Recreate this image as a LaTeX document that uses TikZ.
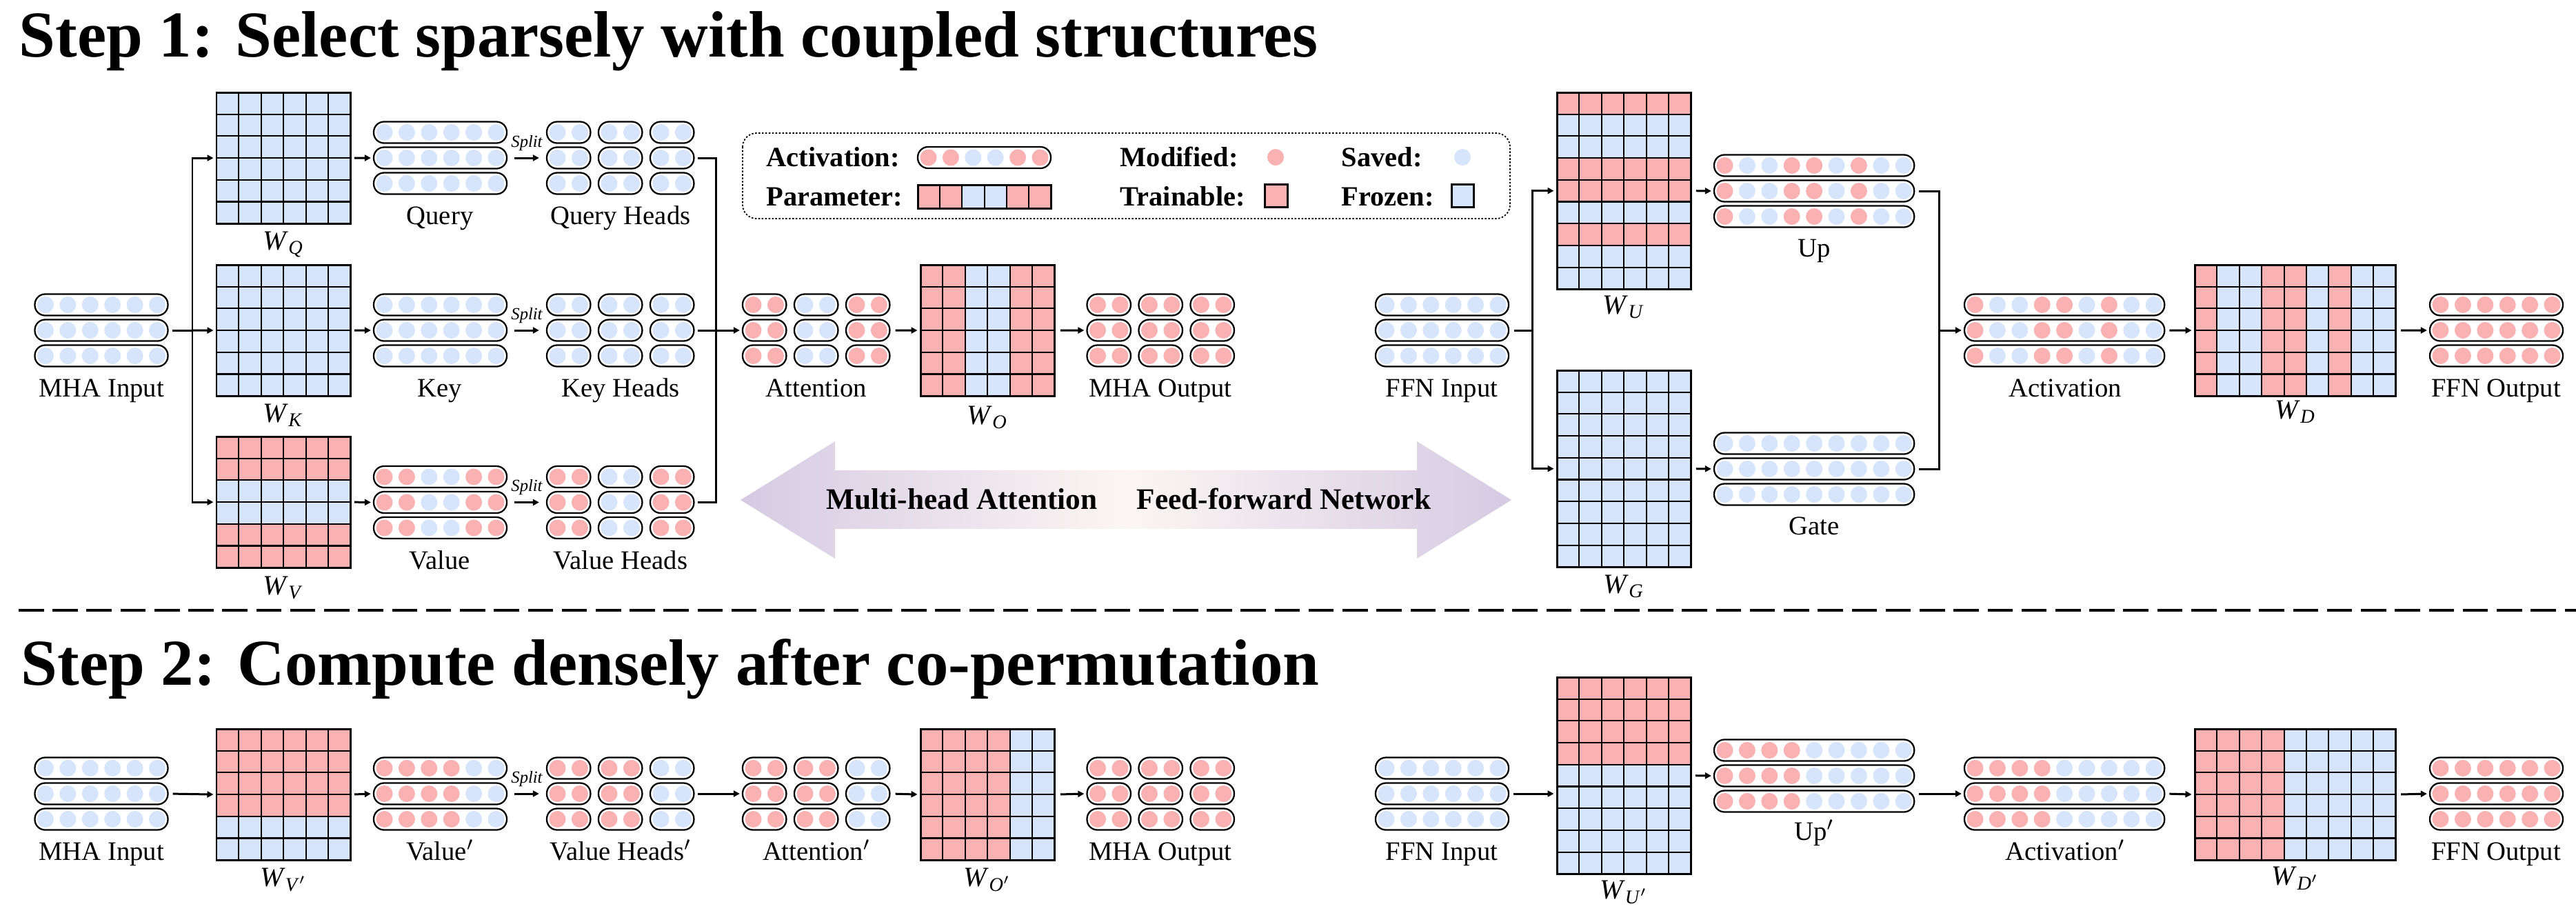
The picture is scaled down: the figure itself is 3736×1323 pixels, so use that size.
\documentclass[tikz,border=0pt]{standalone}
\usepackage{fontspec}
\setmainfont{Liberation Serif}
\usetikzlibrary{arrows.meta}
\definecolor{cp}{RGB}{250,177,177}
\definecolor{cb}{RGB}{214,228,252}
\definecolor{lav}{RGB}{214,202,227}
\definecolor{cream}{RGB}{251,246,243}

% pill: name, left x, centre y, colour list
\newcommand\mypill[4]{%
  \foreach \c [count=\i from 0] in {#4} {\global\let\mypn\i}%
  \pgfmathsetmacro\mypw{\mypn*32.4+31}%
  \node[pillst, minimum width=\mypw*0.01cm] (#1) at ({#2+\mypw/2},{#3}) {};
  \foreach \c [count=\i from 0] in {#4}
    \fill[c\c] ({#2+15.5+\i*32.4},{#3}) circle [radius=0.12cm];
}
% three stacked pills
\newcommand\myact[4]{%
  \pgfmathsetmacro\myya{#3-37}\pgfmathsetmacro\myyc{#3+37}%
  \mypill{#1-1}{#2}{\myya}{#4}%
  \mypill{#1-2}{#2}{#3}{#4}%
  \mypill{#1-3}{#2}{\myyc}{#4}%
}
% heads: three columns of short pills
\newcommand\myheads[6]{%
  \pgfmathsetmacro\myxa{#2}\pgfmathsetmacro\myxb{#2+75}\pgfmathsetmacro\myxc{#2+150}%
  \myact{#1-a}{\myxa}{#3}{#4,#4}%
  \myact{#1-b}{\myxb}{#3}{#5,#5}%
  \myact{#1-c}{\myxc}{#3}{#6,#6}%
}
% matrix coloured by rows: name, L, T, ncols, row colours
\newcommand\wrows[5]{%
  \foreach \c [count=\i] in {#5} {\global\let\mynr\i}%
  \pgfmathsetmacro\mymw{#4*32.4}%
  \pgfmathsetmacro\mymh{\mynr*31.7}%
  \pgfmathtruncatemacro\mynrm{\mynr-1}%
  \pgfmathtruncatemacro\myncm{#4-1}%
  \foreach \c [count=\i from 0] in {#5} \fill[c\c] ({#2},{#3+\i*31.7}) rectangle ++(\mymw,31.7);
  \foreach \i in {1,...,\mynrm} \draw[gridln] ({#2},{#3+\i*31.7}) -- ++(\mymw,0);
  \foreach \i in {1,...,\myncm} \draw[gridln] ({#2+\i*32.4},{#3}) -- ++(0,\mymh);
  \node[matst, minimum width=\mymw*0.01cm, minimum height=\mymh*0.01cm] (#1) at ({#2+\mymw/2},{#3+\mymh/2}) {};
}
% matrix coloured by columns: name, L, T, nrows, column colours
\newcommand\wcols[5]{%
  \foreach \c [count=\i] in {#5} {\global\let\mync\i}%
  \pgfmathsetmacro\mymw{\mync*32.4}%
  \pgfmathsetmacro\mymh{#4*31.7}%
  \pgfmathtruncatemacro\mynrm{#4-1}%
  \pgfmathtruncatemacro\myncm{\mync-1}%
  \foreach \c [count=\i from 0] in {#5} \fill[c\c] ({#2+\i*32.4},{#3}) rectangle ++(32.4,\mymh);
  \foreach \i in {1,...,\mynrm} \draw[gridln] ({#2},{#3+\i*31.7}) -- ++(\mymw,0);
  \foreach \i in {1,...,\myncm} \draw[gridln] ({#2+\i*32.4},{#3}) -- ++(0,\mymh);
  \node[matst, minimum width=\mymw*0.01cm, minimum height=\mymh*0.01cm] (#1) at ({#2+\mymw/2},{#3+\mymh/2}) {};
}

\begin{document}
\begin{tikzpicture}[x=0.01cm,y=-0.01cm,
  pillst/.style={draw, line width=0.65pt, rounded corners=0.15cm, fill=white, inner sep=0pt, minimum height=0.31cm},
  matst/.style={draw, line width=0.85pt, inner sep=0pt},
  gridln/.style={line width=0.6pt},
  arr/.style={line width=0.85pt, -{Triangle[length=0.09cm,width=0.09cm]}, shorten >=0.03cm},
  conn/.style={line width=0.85pt},
  lbl/.style={font=\fontsize{11}{12}\selectfont, anchor=base, inner sep=0pt},
  wl/.style={font=\fontsize{11.5}{12}\selectfont, anchor=base, inner sep=0pt},
  lg/.style={font=\fontsize{11.5}{12}\selectfont\bfseries, anchor=base west, inner sep=0pt},
  ttl/.style={font=\fontsize{27}{30}\selectfont\bfseries, anchor=base west, inner sep=0pt},
  spl/.style={font=\fontsize{7}{8}\selectfont\itshape, inner sep=0pt},
  big/.style={font=\fontsize{12.3}{14}\selectfont\bfseries, anchor=base, inner sep=0pt}
]
\useasboundingbox (0,0) rectangle (3736,1323);

% ---------- titles and separator ----------
\node[ttl] (t1) at (27,82) {Step 1: Select sparsely with coupled structures};
\node[ttl] (t2) at (30,993) {Step 2: Compute densely after co-permutation};
\coordinate (d1) at (27,885);
\coordinate (d2) at (3736,885);
\draw[line width=1.15pt, dash pattern=on 10.4pt off 3.6pt] (d1) -- (d2);

% ---------- legend ----------
\draw[line width=0.5pt, dash pattern=on 0.7pt off 0.7pt, rounded corners=0.2cm] (1077,193) rectangle (2190,317);
\node[lg] (lgact) at (1111,241) {Activation:};
\node[lg] (lgpar) at (1111,298) {Parameter:};
\node[lg] (lgmod) at (1624,241) {Modified:};
\node[lg] (lgtra) at (1624,298) {Trainable:};
\node[lg] (lgsav) at (1945,241) {Saved:};
\node[lg] (lgfro) at (1945,298) {Frozen:};
\mypill{lgpill}{1331}{228.5}{p,p,b,b,p,p}
\foreach \c [count=\i from 0] in {p,p,b,b,p,p}
  \filldraw[fill=c\c, gridln] ({1331+\i*32.2},268) rectangle ++(32.2,34);
\draw[line width=0.85pt] (1331,268) rectangle (1524.2,302);
\fill[cp] (1850,228) circle [radius=0.12cm];
\fill[cb] (2121,228) circle [radius=0.12cm];
\filldraw[fill=cp, line width=0.85pt] (1834,267) rectangle (1867,300);
\filldraw[fill=cb, line width=0.85pt] (2105,267) rectangle (2137,300);

% ---------- double arrow ----------
\shade[left color=lav, right color=lav, middle color=cream]
  (1074,725) -- (1211,640) -- (1211,682) -- (2055,682) -- (2055,640) -- (2192,725)
  -- (2055,810) -- (2055,767) -- (1211,767) -- (1211,810) -- cycle;
\node[big] (mhat) at (1395,738) {Multi-head Attention};
\node[big] (ffnt) at (1862,738) {Feed-forward Network};

% ---------- Step 1 : MHA ----------
\myact{mi}{50.5}{479}{b,b,b,b,b,b}
\wrows{WQ}{314}{134}{6}{b,b,b,b,b,b}
\wrows{WK}{314}{384}{6}{b,b,b,b,b,b}
\wrows{WV}{314}{633}{6}{p,p,b,b,p,p}
\myact{q}{542}{229}{b,b,b,b,b,b}
\myact{k}{542}{479}{b,b,b,b,b,b}
\myact{v}{542}{728.5}{p,p,b,b,p,p}
\myheads{qh}{793}{229}{b}{b}{b}
\myheads{kh}{793}{479}{b}{b}{b}
\myheads{vh}{793}{728.5}{p}{b}{p}
\myheads{at}{1077}{479}{p}{b}{p}
\wcols{WO}{1335}{384}{6}{p,p,b,b,p,p}
\myheads{mo}{1576.5}{479}{p}{p}{p}

\coordinate (b1) at (279,479);
\draw[conn, shorten <=0.05cm] (mi-2.east) -- (b1);
\draw[arr] (b1) -- (WK.west);
\draw[arr] (b1) |- (WQ.west);
\draw[arr] (b1) |- (WV.west);
\draw[arr, shorten <=0.04cm] (WQ.east) -- (q-2.west);
\draw[arr, shorten <=0.04cm] (WK.east) -- (k-2.west);
\draw[arr, shorten <=0.04cm] (WV.east) -- (v-2.west);
\draw[arr, shorten <=0.1cm, shorten >=0.1cm] (q-2.east) -- (qh-a-2.west) node[spl, midway, above=0.09cm] (s1) {Split};
\draw[arr, shorten <=0.1cm, shorten >=0.1cm] (k-2.east) -- (kh-a-2.west) node[spl, midway, above=0.09cm] (s2) {Split};
\draw[arr, shorten <=0.1cm, shorten >=0.1cm] (v-2.east) -- (vh-a-2.west) node[spl, midway, above=0.09cm] (s3) {Split};
\coordinate (b2) at (1038,479);
\draw[conn, shorten <=0.04cm] (qh-c-2.east) -| (b2);
\draw[conn, shorten <=0.04cm] (vh-c-2.east) -| (b2);
\draw[arr, shorten <=0.04cm] (kh-c-2.east) -- (at-a-2.west);
\draw[arr, shorten <=0.07cm] (at-c-2.east) -- (WO.west);
\draw[arr, shorten <=0.07cm] (WO.east) -- (mo-a-2.west);

\node[lbl] (lmi) at (147,575) {MHA Input};
\node[lbl] (lq) at (638,325) {Query};
\node[lbl] (lqh) at (900,325) {Query Heads};
\node[lbl] (lk) at (638,575) {Key};
\node[lbl] (lkh) at (900,575) {Key Heads};
\node[lbl] (lv) at (638,825) {Value};
\node[lbl] (lvh) at (900,825) {Value Heads};
\node[wl] (lwq) at (411,362) {\textit{W}\textsubscript{\textit{Q}}};
\node[wl] (lwk) at (411,612) {\textit{W}\textsubscript{\textit{K}}};
\node[wl] (lwv) at (411,862) {\textit{W}\textsubscript{\textit{V}}};
\node[lbl] (lat) at (1184,575) {Attention};
\node[wl] (lwo) at (1432,615) {\textit{W}\textsubscript{\textit{O}}};
\node[lbl] (lmo) at (1683,575) {MHA Output};

% ---------- Step 1 : FFN ----------
\myact{fi}{1995}{479}{b,b,b,b,b,b}
\wrows{WU}{2258}{134}{6}{p,b,b,p,p,b,p,b,b}
\wrows{WG}{2258}{537}{6}{b,b,b,b,b,b,b,b,b}
\myact{up}{2486}{277}{p,b,b,p,p,b,p,b,b}
\myact{ga}{2486}{680}{b,b,b,b,b,b,b,b,b}
\myact{ac}{2849}{479}{p,b,b,p,p,b,p,b,b}
\wcols{WD}{3183}{384}{6}{p,b,b,p,p,b,p,b,b}
\myact{fo}{3524}{479}{p,p,p,p,p,p}

\coordinate (b3) at (2222,479);
\draw[conn, shorten <=0.07cm] (fi-2.east) -- (b3);
\draw[arr] (b3) |- (WU.west);
\draw[arr] (b3) |- (WG.west);
\draw[arr, shorten <=0.06cm] (WU.east) -- (up-2.west);
\draw[arr, shorten <=0.06cm] (WG.east) -- (ga-2.west);
\coordinate (b4) at (2812,479);
\draw[conn, shorten <=0.06cm] (up-2.east) -| (b4);
\draw[conn, shorten <=0.06cm] (ga-2.east) -| (b4);
\draw[arr] (b4) -- (ac-2.west);
\draw[arr, shorten <=0.06cm] (ac-2.east) -- (WD.west);
\draw[arr, shorten <=0.06cm] (WD.east) -- (fo-2.west);

\node[lbl] (lfi) at (2091,575) {FFN Input};
\node[wl] (lwu) at (2355,455) {\textit{W}\textsubscript{\textit{U}}};
\node[lbl] (lup) at (2631,372) {Up};
\node[wl] (lwg) at (2355,860) {\textit{W}\textsubscript{\textit{G}}};
\node[lbl] (lga) at (2631,775) {Gate};
\node[lbl] (lac) at (2995,575) {Activation};
\node[wl] (lwd) at (3329,607) {\textit{W}\textsubscript{\textit{D}}};
\node[lbl] (lfo) at (3620,575) {FFN Output};

% ---------- Step 2 : MHA ----------
\myact{mi2}{50.5}{1151}{b,b,b,b,b,b}
\wrows{WV2}{314}{1057}{6}{p,p,p,p,b,b}
\myact{v2}{542}{1151}{p,p,p,p,b,b}
\myheads{vh2}{793}{1151}{p}{p}{b}
\myheads{at2}{1077}{1151}{p}{p}{b}
\wcols{WO2}{1335}{1057}{6}{p,p,p,p,b,b}
\myheads{mo2}{1576.5}{1151}{p}{p}{p}

\draw[arr, shorten <=0.06cm] (mi2-2.east) -- (WV2.west);
\draw[arr, shorten <=0.04cm] (WV2.east) -- (v2-2.west);
\draw[arr, shorten <=0.1cm, shorten >=0.1cm] (v2-2.east) -- (vh2-a-2.west) node[spl, midway, above=0.09cm] (s4) {Split};
\draw[arr, shorten <=0.04cm] (vh2-c-2.east) -- (at2-a-2.west);
\draw[arr, shorten <=0.07cm] (at2-c-2.east) -- (WO2.west);
\draw[arr, shorten <=0.07cm] (WO2.east) -- (mo2-a-2.west);

\node[lbl] (lmi2) at (147,1247) {MHA Input};
\node[wl] (lwv2) at (411,1285) {\textit{W}\textsubscript{\textit{V}$'$}};
\node[lbl] (lv2) at (638,1247) {Value$'$};
\node[lbl] (lvh2) at (900,1247) {Value Heads$'$};
\node[lbl] (lat2) at (1184,1247) {Attention$'$};
\node[wl] (lwo2) at (1432,1285) {\textit{W}\textsubscript{\textit{O}$'$}};
\node[lbl] (lmo2) at (1683,1247) {MHA Output};

% ---------- Step 2 : FFN ----------
\myact{fi2}{1995}{1151}{b,b,b,b,b,b}
\wrows{WU2}{2258}{982}{6}{p,p,p,p,b,b,b,b,b}
\myact{up2}{2486}{1125}{p,p,p,p,b,b,b,b,b}
\myact{ac2}{2849}{1151}{p,p,p,p,b,b,b,b,b}
\wcols{WD2}{3183}{1057}{6}{p,p,p,p,b,b,b,b,b}
\myact{fo2}{3524}{1151}{p,p,p,p,p,p}

\draw[arr, shorten <=0.06cm] (fi2-2.east) -- (WU2.west |- fi2-2.east);
\draw[arr, shorten <=0.05cm] (WU2.east) -- (up2-2.west);
\draw[arr, shorten <=0.06cm] (up2-3.east |- ac2-2.west) -- (ac2-2.west);
\draw[arr, shorten <=0.06cm] (ac2-2.east) -- (WD2.west);
\draw[arr, shorten <=0.06cm] (WD2.east) -- (fo2-2.west);

\node[lbl] (lfi2) at (2091,1247) {FFN Input};
\node[wl] (lwu2) at (2355,1303) {\textit{W}\textsubscript{\textit{U}$'$}};
\node[lbl] (lup2) at (2631,1218) {Up$'$};
\node[lbl] (lac2) at (2995,1247) {Activation$'$};
\node[wl] (lwd2) at (3329,1283) {\textit{W}\textsubscript{\textit{D}$'$}};
\node[lbl] (lfo2) at (3620,1247) {FFN Output};
\end{tikzpicture}
\end{document}
